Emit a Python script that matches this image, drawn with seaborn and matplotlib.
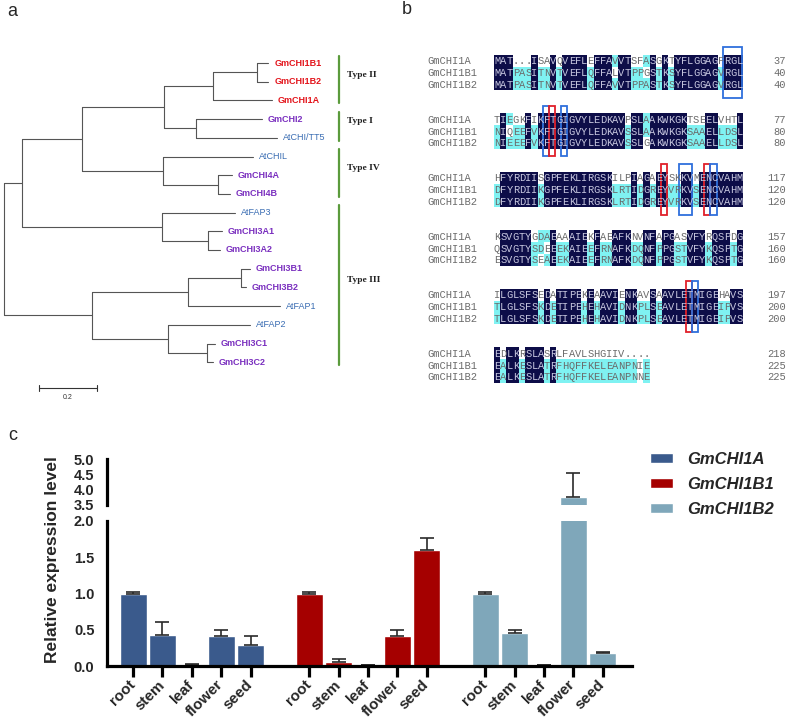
import numpy as np
import pandas as pd
import matplotlib
matplotlib.use("Agg")
import matplotlib.pyplot as plt
import seaborn as sns
from matplotlib.colors import ListedColormap
from matplotlib.patches import Rectangle, Patch

# ---------------- data ----------------
# panel a: phylogenetic tree (Newick, branch lengths)
newick = ("((((((GmCHI1B1:0.038,GmCHI1B2:0.038):0.152,GmCHI1A:0.203):0.169,"
          "(GmCHI2:0.228,AtCHI/TT5:0.279):0.110):0.283,"
          "(AtCHIL:0.310,(GmCHI4A:0.048,GmCHI4B:0.041):0.190):0.279):0.207,"
          "(AtFAP3:0.252,(GmCHI3A1:0.048,GmCHI3A2:0.041):0.159):0.483):0.062,"
          "(((GmCHI3B1:0.031,GmCHI3B2:0.017):0.183,AtFAP1:0.317):0.331,"
          "(AtFAP2:0.283,(GmCHI3C1:0.028,GmCHI3C2:0.021):0.134):0.262):0.303);")
type_labels = ["Type II", "Type I", "Type IV", "Type III"]
type_first = [0, 3, 5, 8]
type_last = [2, 4, 7, 16]
scale_len = 0.2

# panel b: alignment
seq_names = ["GmCHI1A", "GmCHI1B1", "GmCHI1B2"]
aln_1A = ["MAT...ISAVQVEFLEFFAVVTSFASGKTYFLGGAGFRGL",
          "TIEGKFIKFTGIGVYLEDKAVPSLAAKWKGKTSEELVHTL",
          "HFYRDIISGPFEKLIRGSKILPIAGAEYSKKVMENCVAHM",
          "KSVGTYGDAEAAAIEKFAEAFKNVNFAPGASVFYRQSPDG",
          "ILGLSFSEDATIPEKEAAVIENKAVSAAVLETMIGEHAVS",
          "EDLKRSLASRLFAVLSHGIIV...."]
aln_1B1 = ["MATPASITNVTVEFLQFFALVTPPGSTKSYFLGGAGVRGL",
           "NIQEEFVKFTGIGVYLEDKAVSSLAAKWKGKSAAELLDSL",
           "DFYRDIIKGPFEKLIRGSKLRTIDGREYVRKVSENCVAHM",
           "QSVGTYSDEEEKAIEEFRNAFKDQNFPPGSTVFYKQSPTG",
           "TLGLSFSKDETIPEHEHAVIDNKPLSEAVLETMIGEIPVS",
           "EALKESLATRFHQFFKELEANPNIE"]
aln_1B2 = ["MATPASITNVTVEFLQFFAVVTPPASTKSYFLGGAGVRGL",
           "NIEEEFVKFTGIGVYLEDKAVSSLGAKWKGKSAAELLDSL",
           "DFYRDIIKGPFEKLIRGSKLRTIDGREYVRKVSENCVAHM",
           "ESVGTYSEAEEKAIEEFRNAFKDQNFPPGSTVFYKQSPTG",
           "TLGLSFSKDETIPEHEHAVIDNKPLSEAVLETMIGEIPVS",
           "EALKESLATRFHQFFKELEANPNNE"]
box_block = [0, 1, 1, 1, 2, 2, 2, 2, 4, 4]
box_col = [37, 8, 9, 11, 27, 30, 34, 35, 31, 32]
box_ncol = [3, 1, 1, 1, 1, 2, 1, 1, 1, 1]
box_kind = ["blue", "blue", "red", "blue", "red", "blue", "red", "blue", "red", "blue"]

# panel c: expression
tissues = ["root", "stem", "leaf", "flower", "seed"]
genes = ["GmCHI1A", "GmCHI1B1", "GmCHI1B2"]
mean_1A = [1.00, 0.43, 0.02, 0.41, 0.29]
err_1A = [0.02, 0.18, 0.01, 0.08, 0.13]
mean_1B1 = [1.00, 0.05, 0.01, 0.42, 1.60]
err_1B1 = [0.02, 0.04, 0.005, 0.08, 0.17]
mean_1B2 = [1.00, 0.45, 0.01, 3.77, 0.18]
err_1B2 = [0.02, 0.05, 0.005, 0.78, 0.02]

# ---------------- figure ----------------
sns.set_style("white")
plt.rcParams["font.family"] = ["Liberation Sans", "DejaVu Sans"]
W, H = 800, 721
fig = plt.figure(figsize=(W / 100, H / 100), dpi=100)


def px_axes(x0, y0, x1, y1):
    return fig.add_axes([x0 / W, 1 - y1 / H, (x1 - x0) / W, (y1 - y0) / H])


# ---------- panel a ----------
def parse_newick(s):
    pos = 0

    def node():
        nonlocal pos
        children = []
        if s[pos] == "(":
            pos += 1
            while True:
                children.append(node())
                if s[pos] == ",":
                    pos += 1
                    continue
                if s[pos] == ")":
                    pos += 1
                    break
        st = pos
        while s[pos] not in ":,);":
            pos += 1
        name = s[st:pos]
        length = 0.0
        if s[pos] == ":":
            pos += 1
            st = pos
            while s[pos] not in ",);":
                pos += 1
            length = float(s[st:pos])
        return {"name": name, "len": length, "children": children}

    return node()


root = parse_newick(newick)
leaves = []


def layout(n, x):
    n["x"] = x + n["len"]
    if n["children"]:
        for c in n["children"]:
            layout(c, n["x"])
        n["y"] = (n["children"][0]["y"] + n["children"][-1]["y"]) / 2
    else:
        n["y"] = len(leaves)
        leaves.append(n)


layout(root, 0.0)

ux, uy = 290.0, 18.7  # px per branch unit, px per leaf
axA = px_axes(0, 0, 400, 400)
axA.set_xlim(-4 / ux, 396 / ux)
axA.set_ylim((400 - 63) / uy, -63 / uy)
axA.set_axis_off()
lc = "#555555"


def draw(n):
    if n["children"]:
        ys = [c["y"] for c in n["children"]]
        axA.plot([n["x"], n["x"]], [min(ys), max(ys)], color=lc, lw=0.8)
        for c in n["children"]:
            axA.plot([n["x"], c["x"]], [c["y"], c["y"]], color=lc, lw=0.8)
            draw(c)


draw(root)
for lf in leaves:
    nm = lf["name"]
    if nm.startswith("GmCHI1"):
        col, wt = "#e3141b", "bold"
    elif nm.startswith("Gm"):
        col, wt = "#7a2fbf", "bold"
    else:
        col, wt = "#3a6db3", "normal"
    axA.text(lf["x"] + 6 / ux, lf["y"], nm, color=col, fontsize=6.5, weight=wt,
             va="center", ha="left")

bar_x = (339 - 4) / ux
for lab, a, b in zip(type_labels, type_first, type_last):
    y0, y1 = a - 0.4, b + 0.15
    axA.plot([bar_x, bar_x], [y0, y1], color="#5b9b3c", lw=1.6)
    axA.text(bar_x + 8 / ux, (y0 + y1) / 2 - 0.25, lab, fontsize=6.8, weight="bold",
             family="Liberation Serif", color="#222222", va="center", ha="left")

sx0 = (39 - 4) / ux
sy = (388 - 63) / uy
axA.plot([sx0, sx0 + scale_len], [sy, sy], color="#333333", lw=0.8)
for xx in (sx0, sx0 + scale_len):
    axA.plot([xx, xx], [sy - 0.15, sy + 0.15], color="#333333", lw=0.8)
axA.text(sx0 + scale_len / 2, sy + 0.5, f"{scale_len}", fontsize=5, ha="center",
         va="center", color="#333333")

# ---------- panel b ----------
seqs = [aln_1A, aln_1B1, aln_1B2]
nblocks = len(aln_1A)
ncols = max(len(b) for b in aln_1A)
nrows = 5 * (nblocks - 1) + 3
shade = np.full((nrows, ncols), np.nan)
letters = {}
for b in range(nblocks):
    L = len(seqs[0][b])
    for j in range(L):
        ch = [seqs[r][b][j] for r in range(3)]
        for r in range(3):
            c = ch[r]
            if c != "." and all(c == o for o in ch):
                v = 2
            elif c != "." and any(c == ch[o] for o in range(3) if o != r):
                v = 1
            else:
                v = 0
            shade[5 * b + r, j] = v
            letters[(5 * b + r, j)] = (c, v)

cw, rh = 6.22, 11.7
bx0, by0 = 494, 55
axB = px_axes(bx0, by0, bx0 + ncols * cw, by0 + nrows * rh)
sns.heatmap(shade, ax=axB, cmap=ListedColormap(["#ffffff", "#7ff2f2", "#0d0d48"]),
            vmin=-0.5, vmax=2.5, cbar=False, xticklabels=False, yticklabels=False)
axB.set_axis_off()
mono = "Liberation Mono"
for (r, j), (c, v) in letters.items():
    axB.text(j + 0.5, r + 0.55, c, ha="center", va="center", fontsize=7.5, family=mono,
             color="#c8c8e0" if v == 2 else "#6a6a6a")
counts = [0, 0, 0]
for b in range(nblocks):
    for r in range(3):
        counts[r] += sum(1 for c in seqs[r][b] if c != ".")
        yy = 5 * b + r + 0.55
        axB.text((427 - bx0) / cw, yy, seq_names[r], ha="left", va="center", fontsize=7.5,
                 family=mono, color="#6a6a6a", clip_on=False)
        axB.text((786 - bx0) / cw, yy, str(counts[r]), ha="right", va="center", fontsize=7.5,
                 family=mono, color="#6a6a6a", clip_on=False)
kind_col = {"blue": "#2f6fdc", "red": "#e0202a"}
for b, j, w, k in zip(box_block, box_col, box_ncol, box_kind):
    axB.add_patch(Rectangle((j - 0.2, 5 * b - 0.65), w, 3 + 1.3, fill=False,
                            edgecolor=kind_col[k], lw=1.3, clip_on=False))

# ---------- panel c ----------
means = [mean_1A, mean_1B1, mean_1B2]
errs = [err_1A, err_1B1, err_1B2]
rows = []
for gi, g in enumerate(genes):
    for ti, t in enumerate(tissues):
        rows.append({"gene": g, "tissue": t, "slot": gi * (len(tissues) + 1) + ti,
                     "value": means[gi][ti], "err": errs[gi][ti]})
df = pd.DataFrame(rows)
palette = {"GmCHI1A": "#3a5a8c", "GmCHI1B1": "#a50000", "GmCHI1B2": "#7fa7ba"}

axL = px_axes(107, 521, 632, 666)
axU = px_axes(107, 459, 632, 505)
for ax in (axL, axU):
    sns.barplot(data=df, x="slot", y="value", hue="gene", palette=palette,
                native_scale=True, dodge=False, width=0.92, errorbar=None, saturation=1,
                edgecolor="white", linewidth=1, legend=False, ax=ax)
    ax.errorbar(df["slot"], df["value"], yerr=[np.zeros(len(df)), df["err"]],
                fmt="none", ecolor="#2a2a2a", elinewidth=1.2, capsize=5, capthick=1.2)
    ax.set_xlim(-0.89, 17.0)
    ax.set_xlabel("")
    ax.set_ylabel("")
    for s in ("top", "right"):
        ax.spines[s].set_visible(False)
    ax.spines["left"].set_linewidth(2.3)
    ax.spines["left"].set_color("black")
    ax.tick_params(axis="y", length=7, width=2.2, color="black", labelsize=10.5, pad=2)

axL.set_ylim(0, 2.0)
axL.set_yticks([0, 0.5, 1.0, 1.5, 2.0])
axL.set_yticklabels(["0.0", "0.5", "1.0", "1.5", "2.0"], fontweight="bold", fontsize=10.5)
axL.spines["bottom"].set_linewidth(2.3)
axL.spines["bottom"].set_color("black")
axL.set_xticks(df["slot"])
axL.set_xticklabels(df["tissue"], rotation=45, ha="right", va="center",
                    rotation_mode="anchor", fontweight="bold", fontsize=11)
axL.tick_params(axis="x", length=8, width=2.3, color="black", pad=4, bottom=True)

axU.set_ylim(3.5, 5.0)
axU.set_yticks([3.5, 4.0, 4.5, 5.0])
axU.set_yticklabels(["3.5", "4.0", "4.5", "5.0"], fontweight="bold", fontsize=10.5)
axU.spines["bottom"].set_visible(False)
axU.set_xticks([])

fig.text(53 / W, 1 - 560 / H, "Relative expression level", rotation=90, ha="center",
         va="center", fontsize=12.5, fontweight="bold")

handles = [Patch(facecolor=palette[g], edgecolor="white", label=g) for g in genes]
fig.legend(handles=handles, loc="upper left", bbox_to_anchor=(650 / W, 1 - 452 / H),
           frameon=False, prop={"weight": "bold", "style": "italic", "size": 12},
           handlelength=1.4, handleheight=0.5, labelspacing=0.6, handletextpad=0.85,
           borderpad=0, borderaxespad=0)

# panel letters
fig.text(12 / W, 1 - 11 / H, "a", fontsize=13, ha="center", va="center")
fig.text(407 / W, 1 - 10 / H, "b", fontsize=13, ha="center", va="center")
fig.text(13 / W, 1 - 436 / H, "c", fontsize=13, ha="center", va="center")

fig.savefig("out.png", dpi=100)
